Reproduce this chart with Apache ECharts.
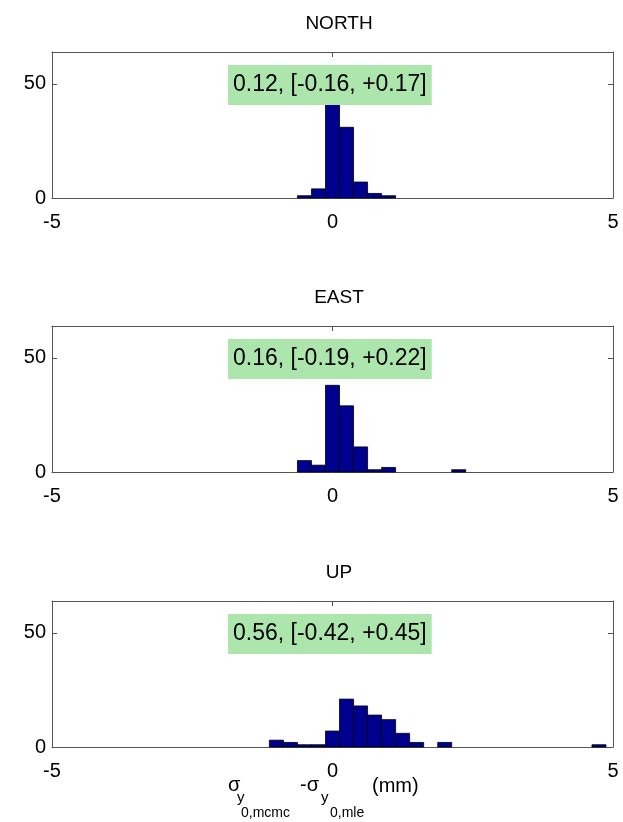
<!DOCTYPE html>
<html>
<head>
<meta charset="utf-8">
<script src="https://cdn.jsdelivr.net/npm/echarts@6/dist/echarts.min.js"></script>
<style>html,body{margin:0;padding:0;background:#fff}#c{width:623px;height:822px}</style>
</head>
<body>
<div id="c"></div>
<script>
// Histogram bin centres (mm) and counts per panel
const binWidth = 0.25;
const panelTitles = ['NORTH', 'EAST', 'UP'];
const northCenters = [-0.5, -0.25, 0, 0.25, 0.5, 0.75, 1.0];
const northCounts  = [1, 4, 41, 31, 7, 2, 1];
const eastCenters  = [-0.5, -0.25, 0, 0.25, 0.5, 0.75, 1.0, 2.25];
const eastCounts   = [5, 3, 38, 29, 11, 1, 2, 1];
const upCenters    = [-1.0, -0.75, -0.5, -0.25, 0, 0.25, 0.5, 0.75, 1.0, 1.25, 1.5, 2.0, 4.75];
const upCounts     = [3, 2, 1, 1, 7, 21, 18, 14, 12, 6, 2, 2, 1];
const annotations  = ['0.12, [-0.16, +0.17]', '0.16, [-0.19, +0.22]', '0.56, [-0.42, +0.45]'];
const xTicks = [-5, 0, 5];
const yTicks = [0, 50];

const panels = [
  {centers: northCenters, counts: northCounts},
  {centers: eastCenters, counts: eastCounts},
  {centers: upCenters, counts: upCounts}
];
const gridTops = [52, 326, 601];
const gridH = 146;
const FONT = 'Liberation Sans, Arial, sans-serif';
const axisColor = '#555';

const option = {
  animation: false,
  backgroundColor: '#fff',
  title: [],
  grid: [],
  xAxis: [],
  yAxis: [],
  series: []
};

panels.forEach((p, i) => {
  option.grid.push({left: 52, right: 10, top: gridTops[i], height: gridH, show: false, containLabel: false});
  option.xAxis.push({
    type: 'value', gridIndex: i, min: -5, max: 5, interval: 5, position: 'bottom',
    axisLine: {show: true, onZero: false, lineStyle: {color: axisColor, width: 1}},
    axisTick: {show: true, inside: true, length: 5, lineStyle: {color: axisColor}},
    axisLabel: {show: true, color: '#000', fontSize: 20, fontFamily: FONT, margin: 14,
      formatter: v => xTicks.indexOf(v) >= 0 ? String(v) : ''},
    splitLine: {show: false}
  });
  option.xAxis.push({
    type: 'value', gridIndex: i, min: -5, max: 5, interval: 5, position: 'top',
    axisLine: {show: true, onZero: false, lineStyle: {color: axisColor, width: 1}},
    axisTick: {show: true, inside: true, length: 5, lineStyle: {color: axisColor}},
    axisLabel: {show: false}, splitLine: {show: false}
  });
  option.yAxis.push({
    type: 'value', gridIndex: i, min: 0, max: 64, interval: 50, position: 'left',
    axisLine: {show: true, onZero: false, lineStyle: {color: axisColor, width: 1}},
    axisTick: {show: true, inside: true, length: 5, lineStyle: {color: axisColor}},
    axisLabel: {show: true, color: '#000', fontSize: 20, fontFamily: FONT, margin: 6,
      formatter: v => yTicks.indexOf(v) >= 0 ? String(v) : ''},
    splitLine: {show: false}
  });
  option.yAxis.push({
    type: 'value', gridIndex: i, min: 0, max: 64, interval: 50, position: 'right',
    axisLine: {show: true, onZero: false, lineStyle: {color: axisColor, width: 1}},
    axisTick: {show: true, inside: true, length: 5, lineStyle: {color: axisColor}},
    axisLabel: {show: false}, splitLine: {show: false}
  });
  option.series.push({
    type: 'custom',
    xAxisIndex: i * 2, yAxisIndex: i * 2,
    data: p.centers.map((c, k) => [c, p.counts[k]]),
    renderItem: function (params, api) {
      const c = api.value(0), n = api.value(1);
      const p0 = api.coord([c - binWidth / 2, n]);
      const p1 = api.coord([c + binWidth / 2, 0]);
      return {
        type: 'rect',
        shape: {x: p0[0], y: p0[1], width: p1[0] - p0[0], height: p1[1] - p0[1]},
        style: {fill: '#00008F', stroke: '#000', lineWidth: 0.8}
      };
    },
    z: 3
  });
  option.title.push({
    text: panelTitles[i], left: 334, top: gridTops[i] - 43, textAlign: 'center',
    textStyle: {fontSize: 19, fontWeight: 'normal', color: '#000', fontFamily: FONT}
  });
  option.title.push({
    text: annotations[i], left: 228, top: gridTops[i] + 13,
    backgroundColor: '#ade6ad', padding: [8, 5, 8, 5],
    textStyle: {fontSize: 23, fontWeight: 'normal', color: '#000', fontFamily: FONT, lineHeight: 24}
  });
});

function lbl(t, x, y, size) {
  return {type: 'text', x: x, y: y,
    style: {text: t, fontSize: size, fontFamily: FONT, fill: '#000', verticalAlign: 'middle', align: 'left'}};
}
option.graphic = [
  lbl('σ', 228, 785, 20),
  lbl('y', 237, 798, 15),
  lbl('0,mcmc', 241, 813, 14),
  lbl('-σ', 300, 785, 20),
  lbl('y', 321, 798, 15),
  lbl('0,mle', 330, 813, 14),
  lbl('(mm)', 372, 786, 20)
];

const chart = echarts.init(document.getElementById('c'), null, {renderer: 'canvas'});
chart.setOption(option);
</script>
</body>
</html>
